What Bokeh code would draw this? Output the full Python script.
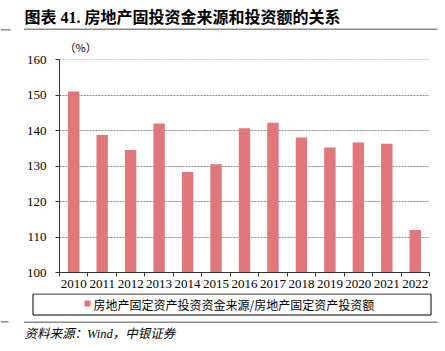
from bokeh.plotting import figure
from bokeh.models import ColumnDataSource, FixedTicker, Label, Span, BoxAnnotation
from bokeh.layouts import column
from bokeh.embed import file_html
from bokeh.resources import INLINE

years = ["2010", "2011", "2012", "2013", "2014", "2015", "2016",
         "2017", "2018", "2019", "2020", "2021", "2022"]
ratio = [151.0, 138.7, 134.5, 142.0, 128.3, 130.5, 140.6,
         142.2, 138.0, 135.2, 136.6, 136.3, 112.0]
y_ticks = [100, 110, 120, 130, 140, 150, 160]
series_name = "房地产固定资产投资资金来源/房地产固定资产投资额"
title_text = "图表 41. 房地产固投资金来源和投资额的关系"
source_text = "资料来源：Wind，中银证券"
unit_text = "（%）"

BAR = "#E1767B"
RULE = "#8c8c8c"
W = 445
TOP_H = 53          # header strip: canvas y 0..53
MAIN_H = 240        # main chart: canvas y 53..293
BOT_Y0 = TOP_H + MAIN_H
H = 351
SERIF = "'Liberation Serif', 'Noto Sans CJK SC'"
CJK = "'Noto Sans CJK SC'"


def strip(y0, y1):
    f = figure(width=W, height=y1 - y0, output_backend="svg", toolbar_location=None,
               x_range=(0, W), y_range=(y1, y0), min_border=0,
               x_axis_location=None, y_axis_location=None,
               background_fill_color="white", border_fill_color="white",
               frame_align=False)
    f.grid.visible = False
    f.outline_line_color = None
    return f


def text(f, x, y, t, size, font=CJK, **kw):
    f.add_layout(Label(x=x, y=y, text=t, text_font_size=size, text_font=font,
                       text_color="black", text_baseline="middle", **kw))


def rule(f, x0, x1, y):
    f.add_layout(BoxAnnotation(left=x0, right=x1, top=y - 0.75, bottom=y + 0.75,
                               fill_color=RULE, fill_alpha=1, line_color=None))


# ---- header strip ----
top = strip(0, TOP_H)
text(top, 24, 17, title_text, "16px", font=SERIF, text_font_style="bold")
text(top, 64, 46, unit_text, "11px")
rule(top, 0, 10, 29.3)
rule(top, 23.5, 437, 28.8)

# ---- main chart ----
xs = list(range(len(years)))
src = ColumnDataSource(dict(x=xs, top=ratio, label=years))

p = figure(width=W, height=MAIN_H, output_backend="svg", toolbar_location=None,
           x_range=(-0.5, len(years) - 0.5), y_range=(y_ticks[0], y_ticks[-1]),
           min_border_left=59, min_border_right=16, min_border_top=6,
           min_border_bottom=21, background_fill_color="white",
           border_fill_color="white", frame_align=False)
p.outline_line_color = None

p.vbar(x="x", top="top", bottom=y_ticks[0], width=0.4, source=src,
       fill_color=BAR, line_color=None)

p.xaxis.ticker = FixedTicker(ticks=xs,
                             minor_ticks=[i - 0.5 for i in range(len(years) + 1)])
p.xaxis.major_label_overrides = {i: y for i, y in enumerate(years)}
p.xaxis.major_tick_out = 0
p.xaxis.major_tick_in = 0
p.xaxis.minor_tick_out = 4
p.xaxis.minor_tick_in = 0
p.xaxis.minor_tick_line_color = "#333333"
p.xaxis.axis_line_color = "#333333"
p.xaxis.major_label_text_font = "Liberation Serif"
p.xaxis.major_label_text_font_size = "13px"
p.xaxis.major_label_text_color = "black"
p.xaxis.major_label_standoff = 3
p.xgrid.grid_line_color = None

p.yaxis.ticker = FixedTicker(ticks=y_ticks)
p.yaxis.minor_tick_line_color = None
p.yaxis.major_tick_out = 4
p.yaxis.major_tick_in = 0
p.yaxis.major_tick_line_color = "#333333"
p.yaxis.axis_line_color = "#333333"
p.yaxis.major_label_text_font = "Liberation Serif"
p.yaxis.major_label_text_font_size = "13px"
p.yaxis.major_label_text_color = "black"
p.yaxis.major_label_standoff = 9
p.ygrid.grid_line_color = "#8a8a8a"
p.ygrid.grid_line_dash = "2 1"
p.ygrid.grid_line_width = 1
p.add_layout(Span(location=y_ticks[-1], dimension="width", line_color="#8a8a8a",
                  line_dash="2 1", line_width=1))

# ---- bottom strip: legend + source ----
bot = strip(BOT_Y0, H)
bot.quad(left=[32.5], right=[430.5], top=[BOT_Y0 + 0.5], bottom=[314.5],
         fill_color="white", line_color="black", line_width=1)
bot.quad(left=[84], right=[90], top=[300], bottom=[306],
         fill_color=BAR, line_color=None)
text(bot, 93, 303.5, series_name, "12px")
text(bot, 24, 333, source_text, "12.5px", font=SERIF, text_font_style="italic")
rule(bot, 0, 8, 321.3)
rule(bot, 23.5, 437, 321.8)

layout = column(top, p, bot, spacing=0)
open("out.html", "w").write(file_html(layout, INLINE))
